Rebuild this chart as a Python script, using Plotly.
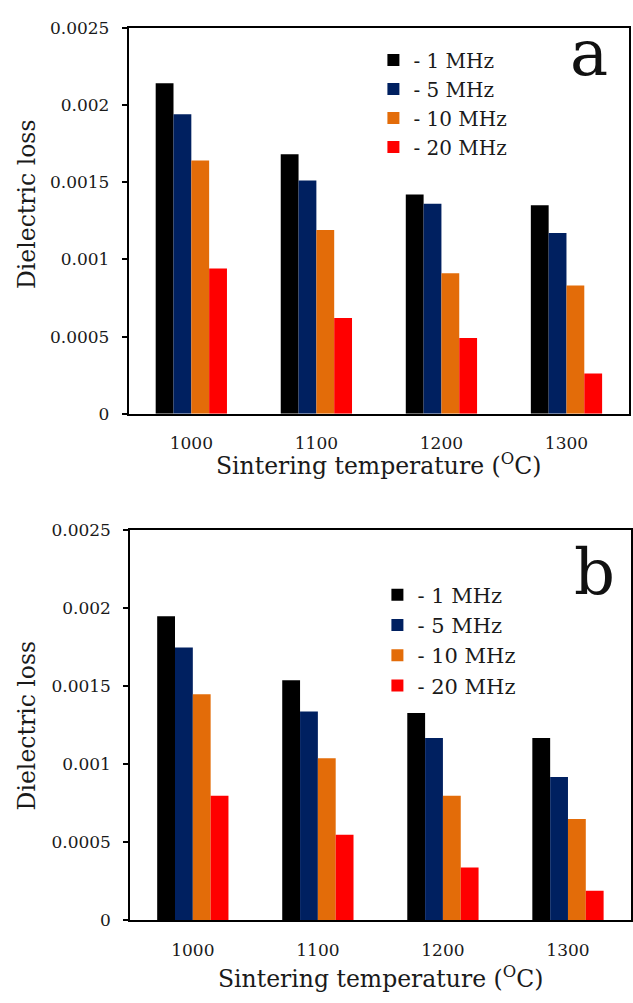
import plotly.graph_objects as go

temps = ["1000", "1100", "1200", "1300"]
freqs = ["- 1 MHz", "- 5 MHz", "- 10 MHz", "- 20 MHz"]
colors = ["#000000", "#002060", "#E36C09", "#FF0000"]

loss_a = [
    [0.00214, 0.00168, 0.00142, 0.00135],   # 1 MHz
    [0.00194, 0.00151, 0.00136, 0.00117],   # 5 MHz
    [0.00164, 0.00119, 0.00091, 0.00083],   # 10 MHz
    [0.00094, 0.00062, 0.00049, 0.00026],   # 20 MHz
]
loss_b = [
    [0.00195, 0.00154, 0.00133, 0.00117],
    [0.00175, 0.00134, 0.00117, 0.00092],
    [0.00145, 0.00104, 0.00080, 0.00065],
    [0.00080, 0.00055, 0.00034, 0.00019],
]

ytick_vals = [0, 0.0005, 0.001, 0.0015, 0.002, 0.0025]
ytick_text = ["0", "0.0005", "0.001", "0.0015", "0.002", "0.0025"]

FONT = "DejaVu Serif"
W, H = 633, 1003

fig = go.Figure()
for i, f in enumerate(freqs):
    fig.add_trace(go.Bar(x=temps, y=loss_a[i], name=f, marker=dict(color=colors[i], line=dict(width=0)),
                         xaxis="x", yaxis="y", legend="legend"))
for i, f in enumerate(freqs):
    fig.add_trace(go.Bar(x=temps, y=loss_b[i], name=f, marker=dict(color=colors[i], line=dict(width=0)),
                         xaxis="x2", yaxis="y2", legend="legend2"))

def px_x(p):
    return p / W

def px_y(p):
    return 1 - p / H

xcommon = dict(type="category", showline=True, linecolor="black", linewidth=2, mirror=True,
               ticks="", showgrid=False, tickfont=dict(family=FONT, size=17, color="#1a1a1a"),
               ticklabelstandoff=13)
ycommon = dict(range=[0, 0.0025], showline=True, linecolor="black", linewidth=2, mirror=True,
               ticks="outside", ticklen=5, tickwidth=2, tickcolor="black", showgrid=False,
               tickvals=ytick_vals, ticktext=ytick_text, zeroline=False,
               tickfont=dict(family=FONT, size=17, color="#1a1a1a"), ticklabelstandoff=9)

fig.update_layout(
    width=W, height=H,
    margin=dict(l=0, r=0, t=0, b=0),
    paper_bgcolor="white", plot_bgcolor="white",
    barmode="group", bargap=0.43, bargroupgap=0,
    xaxis=dict(domain=[px_x(129), px_x(630)], anchor="y", **xcommon),
    yaxis=dict(domain=[px_y(412), px_y(18)], anchor="x", **ycommon),
    xaxis2=dict(domain=[px_x(130.5), px_x(631.5)], anchor="y2", **xcommon),
    yaxis2=dict(domain=[px_y(929), px_y(531)], anchor="x2", **ycommon),
    legend=dict(x=px_x(374), y=px_y(31), xanchor="left", yanchor="top",
                font=dict(family=FONT, size=20, color="#1a1a1a"), bgcolor="rgba(0,0,0,0)"),
    legend2=dict(x=px_x(378), y=px_y(576), xanchor="left", yanchor="top",
                 font=dict(family=FONT, size=21, color="#1a1a1a"), bgcolor="rgba(0,0,0,0)"),
    showlegend=True,
)

ann = []
for yc in [198, 730]:
    ann.append(dict(text="Dielectric loss", x=px_x(27), y=px_y(yc), xref="paper", yref="paper",
                    textangle=-90, showarrow=False, font=dict(family=FONT, size=23.5, color="#1a1a1a"),
                    xanchor="center", yanchor="middle"))
for yc, xc in [(464, 379), (987, 381)]:
    ann.append(dict(text="Sintering temperature (<sup>O</sup>C)", x=px_x(xc), y=px_y(yc), xref="paper", yref="paper",
                    showarrow=False, font=dict(family=FONT, size=23.5, color="#1a1a1a"),
                    xanchor="center", yanchor="middle"))
ann.append(dict(text="a", x=px_x(590), y=px_y(44), xref="paper", yref="paper", showarrow=False,
                font=dict(family=FONT, size=64, color="#111"), xanchor="center", yanchor="middle"))
ann.append(dict(text="b", x=px_x(595), y=px_y(573), xref="paper", yref="paper", showarrow=False,
                font=dict(family=FONT, size=64, color="#111"), xanchor="center", yanchor="middle"))
fig.update_layout(annotations=ann)

fig.write_html("out.html")
